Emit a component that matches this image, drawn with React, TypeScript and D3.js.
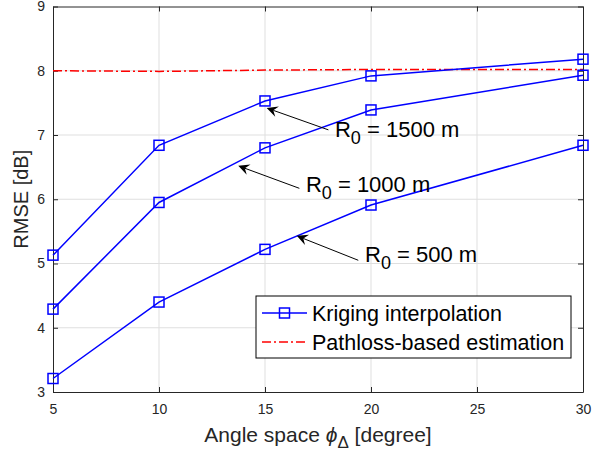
import React, { useEffect, useRef } from "react";
import * as d3 from "d3";

// angle spacing (degree) and RMSE values (dB)
const angles = [5, 10, 15, 20, 30];
const rmse500 = [3.21, 4.4, 5.22, 5.91, 6.84];
const rmse1000 = [4.29, 5.95, 6.8, 7.39, 7.93];
const rmse1500 = [5.13, 6.84, 7.53, 7.92, 8.18];
const pathloss = [8.0, 7.99, 8.01, 8.02, 8.02];

const xTicks = [5, 10, 15, 20, 25, 30];
const yTicks = [3, 4, 5, 6, 7, 8, 9];

// arrow annotations, in data units
const notes = [
  { radius: "1500", tip: [15.08, 7.42], tail: [17.99, 7.08], at: [18.3, 6.97] },
  { radius: "1000", tip: [13.74, 6.52], tail: [16.62, 6.17], at: [16.93, 6.12] },
  { radius: "500", tip: [16.5, 5.43], tail: [19.4, 5.05], at: [19.72, 5.02] },
];

const W = 592, H = 455;
const margin = { top: 6.5, right: 9, bottom: 63, left: 53 };
const FONT = "'Liberation Sans', Arial, Helvetica, sans-serif";
const AXIS = "#262626";
const BLUE = "#0000ff";
const RED = "#ff0000";

export default function App() {
  const ref = useRef<SVGSVGElement | null>(null);

  useEffect(() => {
    const svg = d3.select(ref.current);
    svg.selectAll("*").remove();

    const x = d3.scaleLinear().domain([5, 30]).range([margin.left, W - margin.right]);
    const y = d3.scaleLinear().domain([3, 9]).range([H - margin.bottom, margin.top]);
    const [x0, x1] = x.range();
    const [y0, y1] = y.range();

    svg.append("rect").attr("width", W).attr("height", H).attr("fill", "#fff");

    // grid
    const grid = svg.append("g").attr("stroke", "#dfdfdf").attr("stroke-width", 1);
    grid.selectAll(".gx").data(xTicks.slice(1, -1)).enter().append("line")
      .attr("x1", d => x(d)).attr("x2", d => x(d)).attr("y1", y0).attr("y2", y1);
    grid.selectAll(".gy").data(yTicks.slice(1, -1)).enter().append("line")
      .attr("y1", d => y(d)).attr("y2", d => y(d)).attr("x1", x0).attr("x2", x1);

    // axes (inner ticks on all four sides)
    const styleAxis = (g: any, showText: boolean) => {
      g.select(".domain").attr("stroke", AXIS).attr("stroke-width", 1);
      g.selectAll(".tick line").attr("stroke", AXIS);
      g.selectAll(".tick text")
        .attr("fill", AXIS).style("font-size", "14px").style("font-family", FONT)
        .style("display", showText ? null : "none");
    };
    svg.append("g").attr("transform", `translate(0,${y0})`)
      .call(d3.axisBottom(x).tickValues(xTicks).tickSize(-5).tickSizeOuter(0).tickPadding(12).tickFormat(d3.format("d")))
      .call((g: any) => styleAxis(g, true));
    svg.append("g").attr("transform", `translate(0,${y1})`)
      .call(d3.axisTop(x).tickValues(xTicks).tickSize(-5).tickSizeOuter(0))
      .call((g: any) => styleAxis(g, false));
    svg.append("g").attr("transform", `translate(${x0},0)`)
      .call(d3.axisLeft(y).tickValues(yTicks).tickSize(-5).tickSizeOuter(0).tickPadding(8).tickFormat(d3.format("d")))
      .call((g: any) => styleAxis(g, true));
    svg.append("g").attr("transform", `translate(${x1},0)`)
      .call(d3.axisRight(y).tickValues(yTicks).tickSize(-5).tickSizeOuter(0))
      .call((g: any) => styleAxis(g, false));

    // pathloss line
    const line = d3.line<number>().x((d, i) => x(angles[i])).y(d => y(d));
    svg.append("path").attr("d", line(pathloss)).attr("fill", "none")
      .attr("stroke", RED).attr("stroke-width", 1.5).attr("stroke-dasharray", "9,3,2,3");

    // kriging curves
    [rmse500, rmse1000, rmse1500].forEach(vals => {
      svg.append("path").attr("d", line(vals)).attr("fill", "none")
        .attr("stroke", BLUE).attr("stroke-width", 1.5);
      svg.selectAll(null).data(vals).enter().append("rect")
        .attr("x", (d, i) => x(angles[i]) - 5).attr("y", d => y(d) - 5)
        .attr("width", 10).attr("height", 10)
        .attr("fill", "none").attr("stroke", BLUE).attr("stroke-width", 1.5);
    });

    // annotations
    notes.forEach(n => {
      const tx = x(n.tip[0]), ty = y(n.tip[1]);
      const sx = x(n.tail[0]), sy = y(n.tail[1]);
      const ang = Math.atan2(ty - sy, tx - sx);
      const ux = Math.cos(ang), uy = Math.sin(ang);
      const px = -uy, py = ux;
      const L = 11, Wd = 5.5, notch = 7;
      svg.append("line").attr("x1", sx).attr("y1", sy)
        .attr("x2", tx - ux * notch).attr("y2", ty - uy * notch)
        .attr("stroke", "#000").attr("stroke-width", 1);
      const head = [
        [tx, ty],
        [tx - ux * L + px * Wd, ty - uy * L + py * Wd],
        [tx - ux * notch, ty - uy * notch],
        [tx - ux * L - px * Wd, ty - uy * L - py * Wd],
      ];
      svg.append("path").attr("d", "M" + head.map(p => p.join(",")).join("L") + "Z").attr("fill", "#000");

      const t = svg.append("text").attr("x", x(n.at[0])).attr("y", y(n.at[1]))
        .style("font-family", FONT).style("font-size", "22px").attr("fill", "#000");
      t.append("tspan").text("R");
      t.append("tspan").attr("dy", 7).style("font-size", "18px").text("0");
      t.append("tspan").attr("dy", -7).text(` = ${n.radius} m`);
    });

    // legend
    const lg = svg.append("g");
    const lx = 256, ly = 296;
    lg.append("rect").attr("x", lx).attr("y", ly).attr("width", 315).attr("height", 62)
      .attr("fill", "#fff").attr("stroke", "#000").attr("stroke-width", 1);
    lg.append("line").attr("x1", lx + 6).attr("x2", lx + 51).attr("y1", ly + 17).attr("y2", ly + 17)
      .attr("stroke", BLUE).attr("stroke-width", 1.5);
    lg.append("rect").attr("x", lx + 23.5).attr("y", ly + 12).attr("width", 10).attr("height", 10)
      .attr("fill", "none").attr("stroke", BLUE).attr("stroke-width", 1.5);
    lg.append("line").attr("x1", lx + 6).attr("x2", lx + 51).attr("y1", ly + 46).attr("y2", ly + 46)
      .attr("stroke", RED).attr("stroke-width", 1.5).attr("stroke-dasharray", "9,3,2,3");
    lg.append("text").attr("x", lx + 56).attr("y", ly + 25).text("Kriging interpolation")
      .style("font-family", FONT).style("font-size", "21.5px");
    lg.append("text").attr("x", lx + 56).attr("y", ly + 54).text("Pathloss-based estimation")
      .style("font-family", FONT).style("font-size", "21.5px");

    // axis labels
    const xl = svg.append("text").attr("x", (x0 + x1) / 2).attr("y", 442).attr("text-anchor", "middle")
      .style("font-family", FONT).style("font-size", "21px").attr("fill", AXIS);
    xl.append("tspan").text("Angle space ");
    xl.append("tspan").style("font-style", "italic").text("ϕ");
    xl.append("tspan").attr("dy", 6).style("font-size", "17px").text("Δ");
    xl.append("tspan").attr("dy", -6).text(" [degree]");

    svg.append("text").attr("transform", `translate(28,${(y0 + y1) / 2}) rotate(-90)`)
      .attr("text-anchor", "middle").text("RMSE [dB]")
      .style("font-family", FONT).style("font-size", "20px").attr("fill", AXIS);
  }, []);

  return (
    <svg ref={ref} width={W} height={H} style={{ position: "absolute", left: 0, top: 0 }} />
  );
}
